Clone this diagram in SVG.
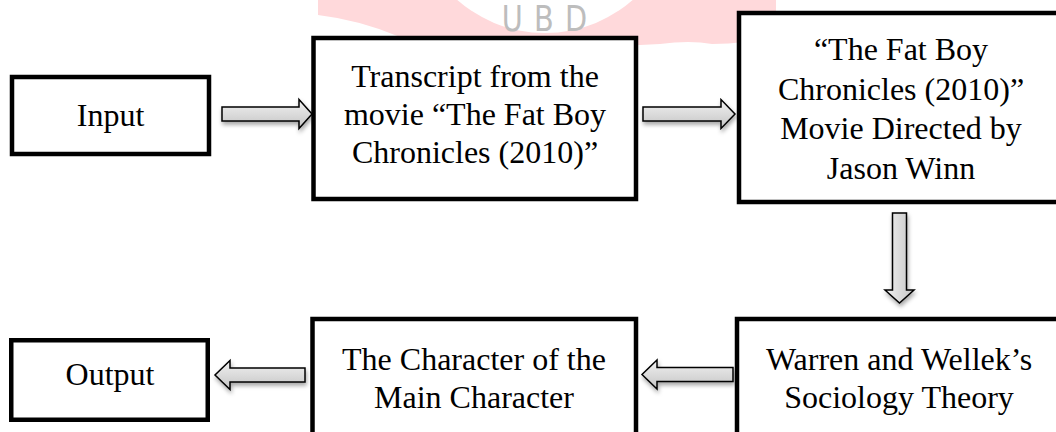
<svg xmlns="http://www.w3.org/2000/svg" width="1056" height="432" viewBox="0 0 1056 432">
<style>
.box{fill:#fff;stroke:#000;stroke-width:4.5}
.lbl{font-family:"Liberation Serif","Times New Roman",serif;font-size:32px;fill:#000;text-anchor:middle}
.arr{fill:url(#gh);stroke:#000;stroke-width:1.5;stroke-linejoin:miter;filter:url(#sh)}
.arrv{fill:url(#gv);stroke:#000;stroke-width:1.5;filter:url(#sh)}
</style>
<defs>
<linearGradient id="gh" x1="0" y1="0" x2="0" y2="1">
<stop offset="0" stop-color="#f2f2f2"/><stop offset="1" stop-color="#c4c4c4"/>
</linearGradient>
<linearGradient id="gv" x1="0" y1="0" x2="1" y2="0">
<stop offset="0" stop-color="#f2f2f2"/><stop offset="1" stop-color="#c4c4c4"/>
</linearGradient>
<filter id="sh" x="-20%" y="-40%" width="140%" height="200%">
<feDropShadow dx="1" dy="3" stdDeviation="2" flood-color="#000" flood-opacity="0.35"/>
</filter>
</defs>
<g id="watermark">
<path d="M318,0 L776,0 L776,20 Q770,44 712,44 Q690,40 660,44 Q600,48 540,40 Q470,40 400,37 Q360,20 318,15 Z" fill="#ffd9db"/>
<circle cx="545" cy="-100" r="133" fill="#fff"/>
<text x="550" y="31" font-family="'DejaVu Sans',sans-serif" font-size="36" fill="#bdbdbd" text-anchor="middle" letter-spacing="14" transform="translate(550 0) scale(0.8 1) translate(-550 0)">UBD</text>
</g>
<g id="connectors">
<polygon class="arr" points="222,107 299,107 299,99.5 312,114 299,128.5 299,121 222,121"/>
<polygon class="arr" points="643,107 721,107 721,99.5 735,114 721,128.5 721,121 643,121"/>
<polygon class="arrv" points="892.5,213 906.5,213 906.5,290 914,290 899.5,303 885,290 892.5,290"/>
<polygon class="arr" points="733,367.5 657,367.5 657,360 642,374.5 657,389 657,381.5 733,381.5"/>
<polygon class="arr" points="305,368 230,368 230,360.5 215,375 230,389.5 230,382 305,382"/>
</g>
<g id="input">
<rect class="box" x="12" y="77" width="197" height="77"/>
<text class="lbl" x="110.5" y="126">Input</text>
</g>
<g id="transcript">
<rect class="box" x="313.5" y="38" width="322.5" height="161"/>
<text class="lbl" x="475" y="87">Transcript from the</text>
<text class="lbl" x="475" y="125">movie “The Fat Boy</text>
<text class="lbl" x="475" y="163">Chronicles (2010)”</text>
</g>
<g id="movie">
<rect class="box" x="739" y="13" width="330" height="189"/>
<text class="lbl" x="901" y="60">“The Fat Boy</text>
<text class="lbl" x="901" y="99.5">Chronicles (2010)”</text>
<text class="lbl" x="901" y="139">Movie Directed by</text>
<text class="lbl" x="901" y="178.5">Jason Winn</text>
</g>
<g id="theory">
<rect class="box" x="737" y="319" width="330" height="150"/>
<text class="lbl" x="899" y="370">Warren and Wellek’s</text>
<text class="lbl" x="899" y="408">Sociology Theory</text>
</g>
<g id="character">
<rect class="box" x="312.5" y="319" width="323.5" height="150"/>
<text class="lbl" x="474" y="370">The Character of the</text>
<text class="lbl" x="474" y="408">Main Character</text>
</g>
<g id="output">
<rect class="box" x="11.25" y="340.25" width="196.5" height="79.5"/>
<text class="lbl" x="110" y="385">Output</text>
</g>
</svg>
